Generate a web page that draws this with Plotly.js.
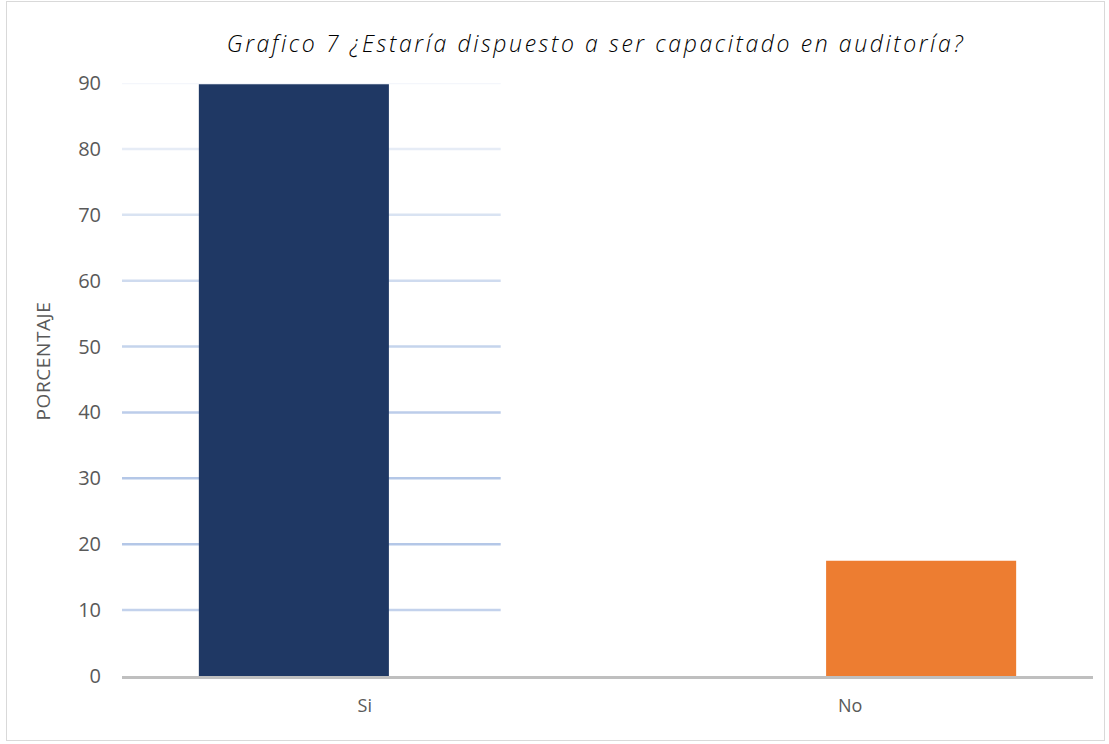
<!DOCTYPE html>
<html>
<head>
<meta charset="utf-8">
<script src="https://cdn.plot.ly/plotly-3.0.1.min.js"></script>
<style>
  body { margin: 0; background: #fff; }
  #frame { position: absolute; left: 6px; top: 1px; width: 1097px; height: 738px; border: 1px solid #d9d9d9; }
  #chart { width: 1097px; height: 738px; }
  #chart .gtitle { letter-spacing: 2.6px; }
  #chart .annotation-text { letter-spacing: 0.6px; }
</style>
</head>
<body>
<div id="frame"><div id="chart"></div></div>
<script>
// respuestas y porcentajes
const categorias = ['Si', 'No'];
const porcentajes = [89.8, 17.5];
const colores = ['#1f3864', '#ed7d31'];
const ticksY = [0, 10, 20, 30, 40, 50, 60, 70, 80, 90];

// gridlines only cover the left part, lighter at the top
const gridColors = ['#c3d2ec', '#b4c7e7', '#b4c7e7', '#bccdea', '#c5d4ec', '#cfdbef', '#d9e3f2', '#e6ecf6', '#f4f6fb'];
let shapes = [];
for (let i = 1; i < ticksY.length; i++) {
    shapes.push({
        type: 'line', xref: 'paper', yref: 'y',
        x0: 0, x1: 0.39, y0: ticksY[i], y1: ticksY[i],
        line: { color: gridColors[i - 1], width: 2.5 },
        layer: 'below'
    });
}

var data = [{
    type: 'bar',
    x: [0, 1],
    y: porcentajes,
    width: 0.303,
    marker: { color: colores },
    xaxis: 'x2',
    hoverinfo: 'y'
}, {
    // empty trace so the category axis gets drawn
    type: 'scatter',
    mode: 'markers',
    x: categorias,
    y: [0, 0],
    marker: { opacity: 0 },
    hoverinfo: 'skip'
}];

var layout = {
    width: 1097,
    height: 738,
    margin: { l: 115, r: 11, t: 81, b: 64 },
    paper_bgcolor: '#fff',
    plot_bgcolor: '#fff',
    showlegend: false,
    title: {
        text: 'Grafico 7 ¿Estaría dispuesto a ser capacitado en auditoría?',
        font: { family: 'Open Sans', size: 23, style: 'italic', weight: 300, color: '#000' },
        x: 0.537, xanchor: 'center', y: 0.943, yanchor: 'middle'
    },
    xaxis: {
        type: 'category',
        range: [-0.5, 1.5],
        showgrid: false,
        zeroline: false,
        showline: true,
        linecolor: '#bfbfbf',
        linewidth: 3,
        ticks: '',
        ticklabelstandoff: 11,
        tickfont: { family: 'Open Sans', size: 18, color: '#595959' },
        fixedrange: true
    },
    xaxis2: {
        overlaying: 'x',
        range: [-0.274, 1.274],
        visible: false,
        fixedrange: true
    },
    yaxis: {
        range: [0, 90],
        tickvals: ticksY,
        showgrid: false,
        zeroline: false,
        showline: false,
        ticks: '',
        ticklabelstandoff: 20,
        tickfont: { family: 'Open Sans', size: 20, color: '#595959' },
        fixedrange: true
    },
    annotations: [{
        text: 'PORCENTAJE',
        xref: 'paper', yref: 'paper',
        x: -0.081, y: 0.531,
        xanchor: 'center', yanchor: 'middle',
        textangle: -90,
        showarrow: false,
        font: { family: 'Open Sans', size: 19, color: '#595959' }
    }],
    shapes: shapes
};

Plotly.newPlot('chart', data, layout, { displayModeBar: false, staticPlot: true });
</script>
</body>
</html>
